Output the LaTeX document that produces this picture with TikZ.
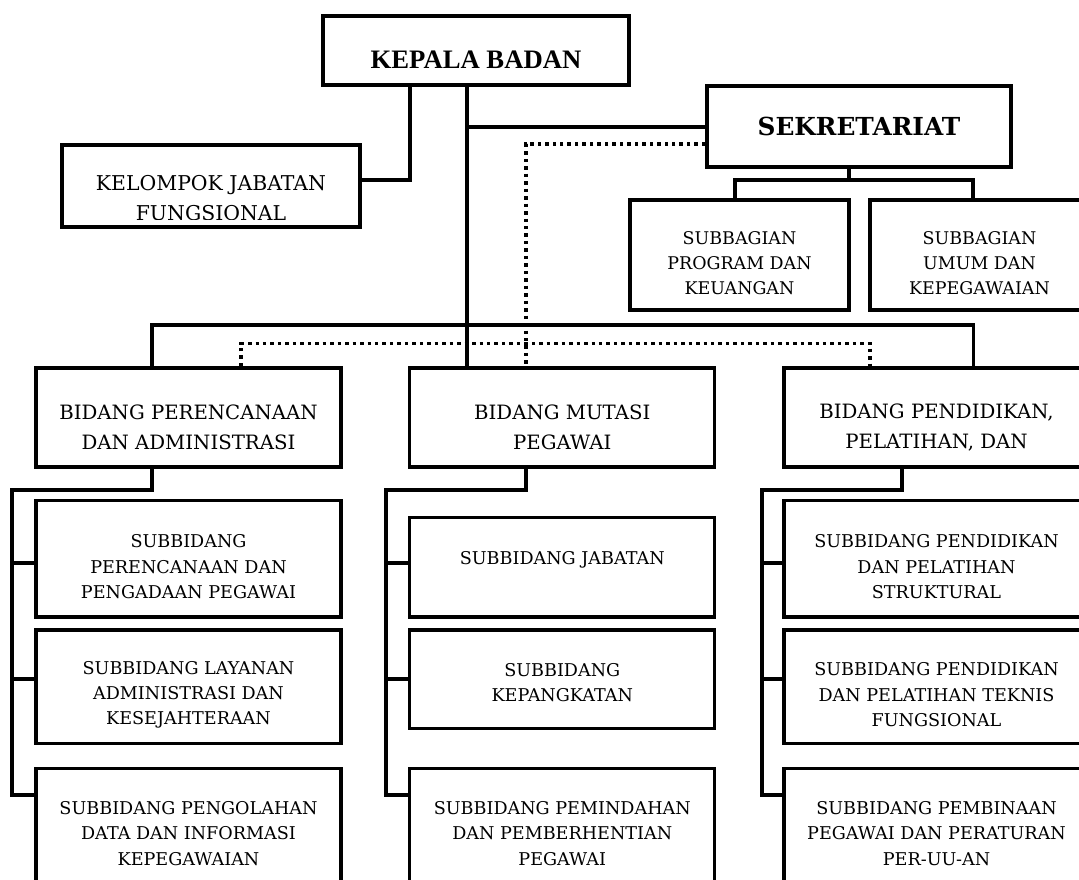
\documentclass[tikz,border=0pt]{standalone}
\usepackage{fontspec}
\setmainfont{DejaVu Serif}
\newfontfamily\timesfont{Liberation Serif}
\newcommand{\pad}[1][1.65em]{\rule{0pt}{#1}}
\newcommand{\padlow}{\rule[-1em]{0pt}{1em}}

\begin{document}
\begin{tikzpicture}[
    x=0.75pt, y=-0.75pt,
    line width=2.5pt,
    unit/.style={draw, rectangle, line width=2.5pt, align=center, inner sep=0pt},
    head/.style={unit, font=\timesfont\bfseries\fontsize{20}{24}\selectfont},
    sekre/.style={unit, font=\bfseries\fontsize{18.6}{22}\selectfont},
    subbag/.style={unit, minimum width=164.25pt, minimum height=82.5pt, font=\fontsize{13.1}{18.75}\selectfont},
    bidang/.style={unit, minimum width=228.75pt, minimum height=74.25pt, font=\fontsize{14.8}{22}\selectfont},
    subbid/.style={unit, minimum width=228.75pt, font=\fontsize{13.2}{19}\selectfont},
    staff line/.style={dash pattern=on 2.6pt off 3pt}
]
\useasboundingbox (0,0) rectangle (1079,879);
\clip (0,0) rectangle (1079,879);

\node[head, minimum width=229.5pt, minimum height=51.75pt] (K) at (476,50.5) {\pad[1.35em]KEPALA BADAN};
\node[sekre, minimum width=228pt, minimum height=60.75pt] (S) at (859,126.5) {SEKRETARIAT};
\node[unit, minimum width=223.5pt, minimum height=61.5pt] (F) at (211,186) {};
\begin{scope}
  \clip (62,145) rectangle (360,219);
  \node[align=center, inner sep=0pt, font=\fontsize{15.3}{22.5}\selectfont] (FT) at (211,198) {KELOMPOK JABATAN\\FUNGSIONAL};
\end{scope}

\node[subbag] (SA) at (739.5,255) {\pad SUBBAGIAN\\PROGRAM DAN\\KEUANGAN};
\node[subbag] (SB) at (979.5,255) {\pad SUBBAGIAN\\UMUM DAN\\KEPEGAWAIAN};

\node[bidang] (L) at (188.5,417.5) {\pad[1.75em]BIDANG PERENCANAAN\\DAN ADMINISTRASI};
\node[bidang] (C) at (562.25,417.5) {\pad[1.75em]BIDANG MUTASI\\PEGAWAI};
\node[bidang] (R) at (936.5,417.5) {\pad[1.75em]BIDANG PENDIDIKAN,\\PELATIHAN, DAN};

\node[subbid, minimum height=87.4pt] (L1) at (188.5,558.75) {\pad SUBBIDANG\\PERENCANAAN DAN\\PENGADAAN PEGAWAI};
\node[subbid, minimum height=85.1pt] (L2) at (188.5,686.75) {\pad SUBBIDANG LAYANAN\\ADMINISTRASI DAN\\KESEJAHTERAAN};
\node[subbid, minimum height=97.1pt] (L3) at (188.5,833.25) {SUBBIDANG PENGOLAHAN\\DATA DAN INFORMASI\\KEPEGAWAIAN};
\node[subbid, minimum height=74.6pt] (C1) at (562.25,567.25) {SUBBIDANG JABATAN\padlow};
\node[subbid, minimum height=73.9pt] (C2) at (562.25,679.25) {\pad[1.1em]SUBBIDANG\\KEPANGKATAN};
\node[subbid, minimum height=97.1pt] (C3) at (562.25,833.25) {SUBBIDANG PEMINDAHAN\\DAN PEMBERHENTIAN\\PEGAWAI};
\node[subbid, minimum height=87.4pt] (R1) at (936.5,558.75) {\pad SUBBIDANG PENDIDIKAN\\DAN PELATIHAN\\STRUKTURAL};
\node[subbid, minimum height=85.1pt] (R2) at (936.5,686.75) {\pad SUBBIDANG PENDIDIKAN\\DAN PELATIHAN TEKNIS\\FUNGSIONAL};
\node[subbid, minimum height=97.1pt] (R3) at (936.5,833.25) {SUBBIDANG PEMBINAAN\\PEGAWAI DAN PERATURAN\\PER-UU-AN};

\coordinate (jk) at (467,127);
\coordinate (sbus) at (0,180);
\coordinate (bus) at (0,325);
\coordinate (dbus) at (0,343.5);

\draw (K.south -| 410,0) |- (F.east |- 0,180);
\draw (K.south -| 467,0) -- (C.north -| 467,0);
\draw (jk) -- (S.west |- jk);
\draw[staff line] (S.west |- 0,144) -| (C.north -| 526,0);
\draw (S.south -| 849,0) -- (sbus -| 849,0);
\draw (SA.north -| 735,0) |- (sbus -| 973,0) -- (SB.north -| 973,0);
\draw (L.north -| 152,0) |- (bus -| 973.5,0) -- (R.north -| 973.5,0);
\draw[staff line] (L.north -| 241,0) |- (dbus -| 870,0) -- (R.north -| 870,0);

\draw (L.south -| 152,0) |- (12,490) |- (L3.west |- 0,795);
\draw (12,563) -- (L1.west |- 0,563);
\draw (12,679) -- (L2.west |- 0,679);
\draw (C.south -| 526,0) |- (386,490) |- (C3.west |- 0,795);
\draw (386,563) -- (C1.west |- 0,563);
\draw (386,679) -- (C2.west |- 0,679);
\draw (R.south -| 902,0) |- (762,490) |- (R3.west |- 0,795);
\draw (762,563) -- (R1.west |- 0,563);
\draw (762,679) -- (R2.west |- 0,679);
\end{tikzpicture}
\end{document}
